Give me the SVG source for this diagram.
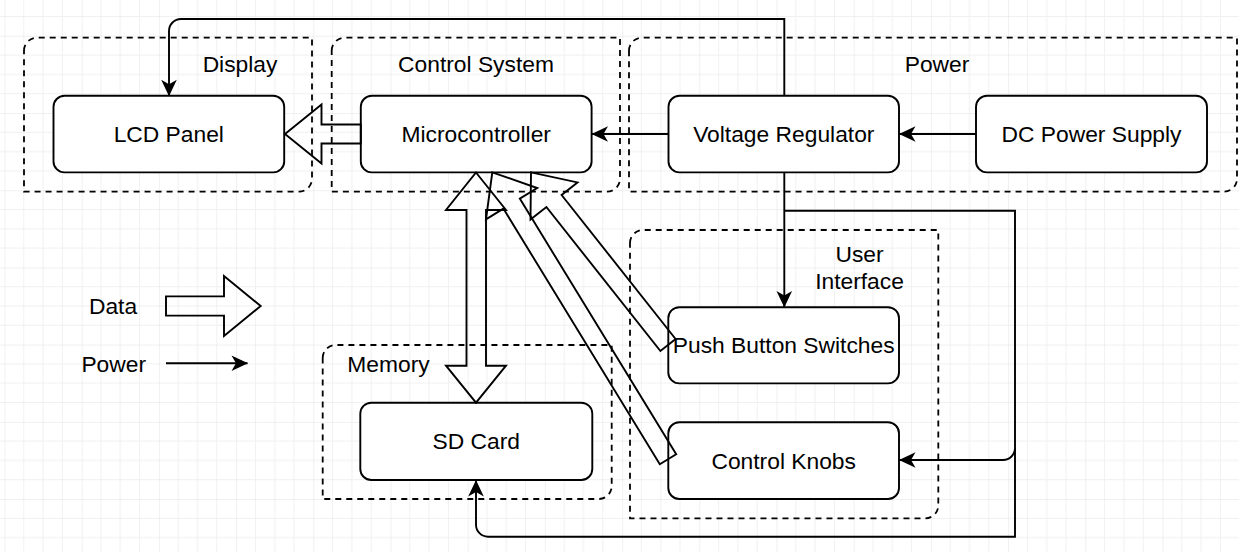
<svg xmlns="http://www.w3.org/2000/svg" width="1239" height="552" viewBox="0 0 1239 552">
  <defs>
    <pattern id="grid" patternUnits="userSpaceOnUse" x="4.5" y="35.8" width="77.2" height="77.2">
      <path d="M19.3,0V77.2M38.6,0V77.2M57.9,0V77.2M0,19.3H77.2M0,38.6H77.2M0,57.9H77.2" stroke="#f0f0f0" stroke-width="1" fill="none"/>
      <path d="M0,0V77.2M0,0H77.2" stroke="#e2e2e2" stroke-width="1" fill="none"/>
    </pattern>
    <marker id="arr" markerUnits="userSpaceOnUse" viewBox="-17 -9 18 18" markerWidth="18" markerHeight="18" refX="0" refY="0" orient="auto">
      <path d="M0.5,0 L-16,-7.8 L-11.5,0 L-16,7.8 Z" fill="#000"/>
    </marker>
    <style>
      .grp { fill: none; stroke: #000; stroke-width: 1.8; stroke-dasharray: 6 5; }
      .node rect { fill: #fff; stroke: #000; stroke-width: 1.9; }
      text { font-family: "Liberation Sans", Arial, sans-serif; font-size: 22.8px; fill: #000; text-anchor: middle; }
      .pw { fill: none; stroke: #000; stroke-width: 1.9; marker-end: url(#arr); }
      .pl { fill: none; stroke: #000; stroke-width: 1.9; }
      .data { fill: none; stroke: #000; stroke-width: 1.9; stroke-linejoin: miter; }
    </style>
  </defs>
  <rect x="0" y="0" width="1239" height="552" fill="#fff"/>
  <rect x="0" y="0" width="1239" height="552" fill="url(#grid)"/>

  <g id="group-display">
    <path class="grp" d="M24,50.7 A13,13 0 0 1 37,37.7 L312,37.7 L312,178.7 A13,13 0 0 1 299,191.7 L24,191.7 Z"/>
    <text x="240" y="72.3">Display</text>
  </g>
  <g id="group-control-system">
    <path class="grp" d="M331.7,50.7 A13,13 0 0 1 344.7,37.7 L620,37.7 L620,178.7 A13,13 0 0 1 607,191.7 L331.7,191.7 Z"/>
    <text x="476" y="72.3">Control System</text>
  </g>
  <g id="group-power">
    <path class="grp" d="M629,50.7 A13,13 0 0 1 642,37.7 L1237,37.7 L1237,178.7 A13,13 0 0 1 1224,191.7 L629,191.7 Z"/>
    <text x="937" y="72.3">Power</text>
  </g>
  <g id="group-user-interface">
    <path class="grp" d="M630,243 A13,13 0 0 1 643,230 L938.3,230 L938.3,505.3 A13,13 0 0 1 925.3,518.3 L630,518.3 Z"/>
    <text x="859.5" y="261.7">User</text>
    <text x="859.5" y="289">Interface</text>
  </g>
  <g id="group-memory">
    <path class="grp" d="M322.7,358 A13,13 0 0 1 335.7,345 L611.7,345 L611.7,486 A13,13 0 0 1 598.7,499 L322.7,499 Z"/>
    <text x="388.5" y="372.3">Memory</text>
  </g>

  <g id="node-lcd" class="node">
    <rect x="53.5" y="95.8" width="230.7" height="76.6" rx="11"/>
    <text x="168.8" y="141.8">LCD Panel</text>
  </g>
  <g id="node-mcu" class="node">
    <rect x="360.8" y="95.8" width="230.8" height="76.6" rx="11"/>
    <text x="476.2" y="141.8">Microcontroller</text>
  </g>
  <g id="node-vreg" class="node">
    <rect x="668.5" y="95.8" width="230.5" height="76.6" rx="11"/>
    <text x="783.8" y="141.8">Voltage Regulator</text>
  </g>
  <g id="node-dc" class="node">
    <rect x="976" y="95.8" width="231" height="76.6" rx="11"/>
    <text x="1091.5" y="141.8">DC Power Supply</text>
  </g>
  <g id="node-push" class="node">
    <rect x="668.3" y="307.2" width="230.7" height="76.2" rx="11"/>
    <text x="783.7" y="353.3">Push Button Switches</text>
  </g>
  <g id="node-knobs" class="node">
    <rect x="668.3" y="422.3" width="230.7" height="76.7" rx="11"/>
    <text x="783.7" y="468.5">Control Knobs</text>
  </g>
  <g id="node-sd" class="node">
    <rect x="360.3" y="402.7" width="232" height="77.3" rx="11"/>
    <text x="476.3" y="449">SD Card</text>
  </g>

  <g id="legend">
    <text x="113" y="314.3">Data</text>
    <text x="113.7" y="371.7">Power</text>
    <polygon class="data" points="166,296.4 224,296.4 224,276 260.7,306 224,336 224,315.6 166,315.6"/>
    <path class="pw" d="M166,363.3 L247.5,363.3"/>
  </g>

  <g id="connectors">
    <path class="pw" d="M976,134 L899.5,134"/>
    <path class="pw" d="M668.5,134 L592,134"/>
    <path class="pw" d="M784.3,95.8 L784.3,19 L181,19 A12,12 0 0 0 169,31 L169,95.8"/>
    <path class="pw" d="M784.3,172.4 L784.3,307"/>
    <path class="pw" d="M784.3,210.7 L1015,210.7 L1015,448 A12,12 0 0 1 1003,460 L899.5,460"/>
    <path class="pw" d="M1015,448 L1015,536.7 L488,536.7 A12,12 0 0 1 476,524.7 L476,480.5"/>
    <polygon class="data" points="360.8,124.5 321.5,124.5 321.5,104.5 285,134 321.5,163.5 321.5,143.5 360.8,143.5"/>
    <polygon class="data" points="476,172.5 506,210 486,210 486,365.7 506,365.7 476,402.7 446,365.7 466.5,365.7 466.5,210 446,210"/>
    <polygon class="data" points="531,172.4 577.5,182.4 561.6,195 675.6,339 660.4,351 546.4,207 530.5,219.6"/>
    <polygon class="data" points="492.3,172.4 537.2,188 519.8,198.6 676.2,454.3 659.8,464.3 503.4,208.6 486,219.3"/>
  </g>
</svg>
